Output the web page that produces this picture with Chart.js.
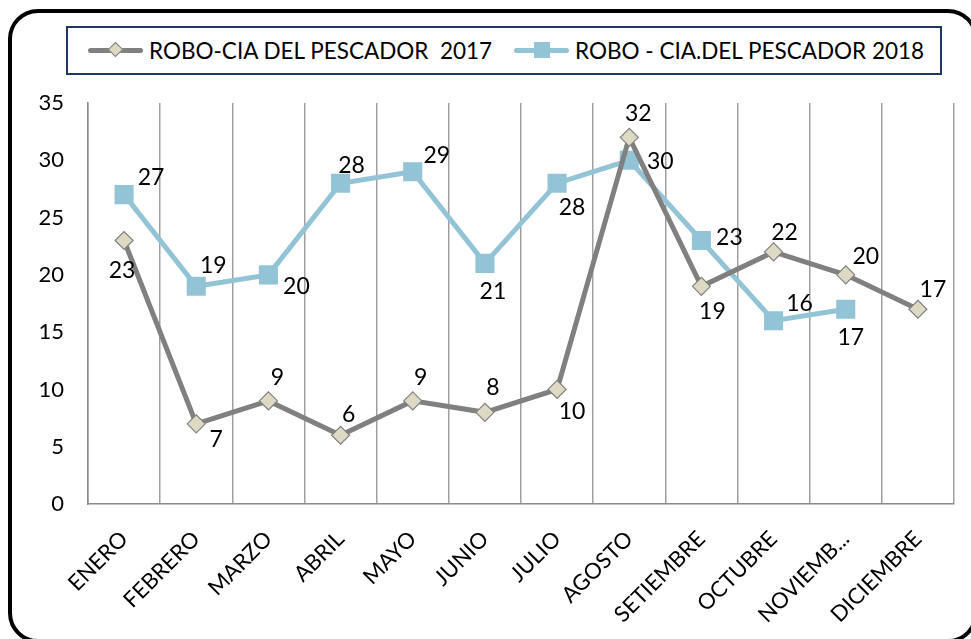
<!DOCTYPE html>
<html>
<head>
<meta charset="utf-8">
<script src="https://cdn.jsdelivr.net/npm/chart.js@4.4.0/dist/chart.umd.min.js"></script>
<style>
  html, body { margin: 0; padding: 0; background: #fff; overflow: hidden; }
  body { width: 971px; height: 639px; position: relative; font-family: Lato, sans-serif; }
  #frame {
    position: absolute; left: 8px; top: 9px; width: 962px; height: 626px;
    border: 4px solid #000; border-radius: 30px;
  }
  #wrap { position: absolute; left: 0; top: 0; width: 971px; height: 639px; }
  #legend {
    position: absolute; left: 66px; top: 26px; width: 872px; height: 45px;
    border: 2px solid #1f3864; background: #fff;
  }
  .line { position: absolute; top: 20px; width: 55px; height: 5px; border-radius: 3px; }
  .diamond { position: absolute; top: 16px; width: 9px; height: 9px; transform: rotate(45deg); background: #ddd9c3; border: 1px solid #808080; }
  .square { position: absolute; top: 14px; width: 16px; height: 16px; background: #93c4d6; }
  .txt { position: absolute; top: 0; height: 45px; line-height: 45px; font-size: 22.5px; color: #000; white-space: pre; }
</style>
</head>
<body>
<div id="frame"></div>
<div id="wrap"><canvas id="grafico" width="971" height="639"></canvas></div>
<div id="legend">
  <span class="line" style="left:20px;background:#808080"></span>
  <span class="diamond" style="left:42px"></span>
  <span class="txt" style="left:81px">ROBO-CIA DEL PESCADOR  2017</span>
  <span class="line" style="left:446px;background:#93c4d6"></span>
  <span class="square" style="left:466px"></span>
  <span class="txt" style="left:507px">ROBO - CIA.DEL PESCADOR 2018</span>
</div>
<script>
const meses = ['ENERO', 'FEBRERO', 'MARZO', 'ABRIL', 'MAYO', 'JUNIO', 'JULIO', 'AGOSTO', 'SETIEMBRE', 'OCTUBRE', 'NOVIEMB...', 'DICIEMBRE'];
const robos2017 = [23, 7, 9, 6, 9, 8, 10, 32, 19, 22, 20, 17];
const robos2018 = [27, 19, 20, 28, 29, 21, 28, 30, 23, 16, 17, null];

// desplazamiento de las etiquetas respecto al punto
const etiq2017 = [[-2, 30], [20, 16], [9, -23], [8, -21], [8, -23], [8, -25], [15, 22], [9, -24], [11, 25], [11, -19], [20, -18], [15, -20]];
const etiq2018 = [[27, -17], [17, -21], [28, 12], [11, -18], [24, -16], [8, 28], [15, 24], [31, 1], [28, -3], [26, -17], [5, 28], [0, 0]];

const etiquetas = {
  id: 'etiquetas',
  afterDatasetsDraw(chart) {
    const c = chart.ctx;
    const offs = [etiq2017, etiq2018];
    c.save();
    c.font = '23px Lato';
    c.fillStyle = '#000';
    c.textAlign = 'center';
    c.textBaseline = 'middle';
    chart.data.datasets.forEach(function (ds, i) {
      chart.getDatasetMeta(i).data.forEach(function (p, j) {
        if (ds.data[j] == null) return;
        c.fillText(ds.data[j], p.x + offs[i][j][0], p.y + offs[i][j][1]);
      });
    });
    c.restore();
  }
};

const ctx = document.getElementById('grafico');

new Chart(ctx, {
  type: 'line',
  data: {
    labels: meses,
    datasets: [{
      label: 'ROBO-CIA DEL PESCADOR  2017',
      data: robos2017,
      borderColor: '#808080',
      borderWidth: 5,
      pointStyle: 'rectRot',
      pointRadius: 9,
      pointBackgroundColor: '#ddd9c3',
      pointBorderColor: '#808080',
      pointBorderWidth: 1.2,
      tension: 0
    }, {
      label: 'ROBO - CIA.DEL PESCADOR 2018',
      data: robos2018,
      borderColor: '#93c4d6',
      borderWidth: 5,
      pointStyle: 'rect',
      pointRadius: 13.5,
      pointBackgroundColor: '#93c4d6',
      pointBorderColor: '#93c4d6',
      pointBorderWidth: 0,
      tension: 0
    }]
  },
  options: {
    responsive: false,
    animation: false,
    layout: { padding: { left: 0, top: 103, right: 17, bottom: 0 } },
    plugins: {
      legend: { display: false },
      tooltip: { enabled: false }
    },
    scales: {
      y: {
        min: 0,
        max: 35,
        ticks: {
          stepSize: 5,
          color: '#000',
          padding: 24,
          font: { family: 'Lato', size: 22 }
        },
        grid: { display: false, drawTicks: false },
        border: { display: true, color: '#8c8c8c', width: 1.5 },
        afterFit: function (s) { s.width = 88; }
      },
      x: {
        offset: true,
        ticks: {
          color: '#000',
          minRotation: 45,
          maxRotation: 45,
          autoSkip: false,
          padding: 22,
          font: { family: 'Lato', size: 22 }
        },
        grid: { display: true, offset: true, drawTicks: false, color: '#a0a0a0', lineWidth: 1.5 },
        border: { display: true, color: '#8c8c8c', width: 1.5 },
        afterFit: function (s) { s.height = 135; s.paddingLeft = 0; s.paddingRight = 0; },
        afterCalculateLabelRotation: function (s) { s.labelRotation = 45; }
      }
    }
  },
  plugins: [etiquetas]
});
</script>
</body>
</html>
